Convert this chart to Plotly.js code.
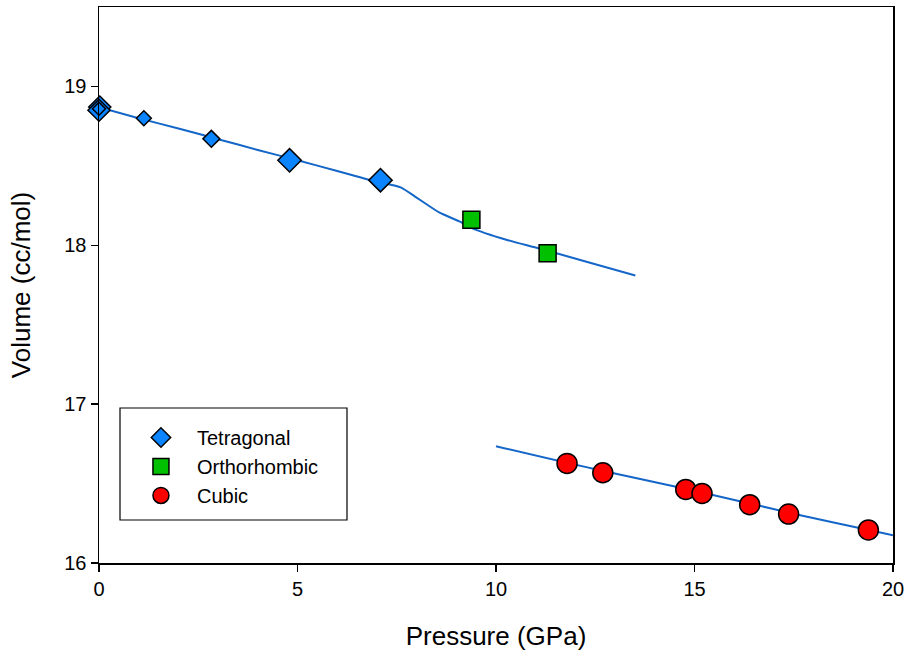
<!DOCTYPE html>
<html>
<head>
<meta charset="utf-8">
<script src="https://cdn.plot.ly/plotly-3.0.1.min.js"></script>
<style>html,body{margin:0;padding:0;background:#fff;}#chart{width:909px;height:660px;}</style>
</head>
<body>
<div id="chart"></div>
<script>
// Data
const tetraP = [0.02, 0, 0, 1.13, 2.83, 4.8, 7.09];
const tetraV = [18.87, 18.85, 18.86, 18.80, 18.67, 18.535, 18.41];
const tetraSize = [17, 17, 10, 11.5, 13, 18, 18];

const orthoP = [9.38, 11.3];
const orthoV = [18.16, 17.95];

const cubicP = [11.79, 12.69, 14.78, 15.19, 16.39, 17.37, 19.38];
const cubicV = [16.627, 16.568, 16.463, 16.438, 16.367, 16.308, 16.208];

const fitLowP = [0, 1, 2, 3, 4, 5, 6, 7, 7.6, 8.0, 8.24, 8.58, 9.08, 9.42, 10.26, 11.09, 12.3, 13.51];
const fitLowV = [18.869, 18.80, 18.735, 18.668, 18.60, 18.535, 18.468, 18.40, 18.365, 18.30, 18.26, 18.205, 18.150, 18.105, 18.035, 17.98, 17.895, 17.81];

const fitHighP = [10, 12.5, 15, 17.5, 20];
const fitHighV = [16.735, 16.59, 16.455, 16.31, 16.175];

const lineColor = '#1466c8';

const traces = [
  {x: fitLowP, y: fitLowV, mode: 'lines', line: {color: lineColor, width: 2, shape: 'spline', smoothing: 0.6}, showlegend: false, hoverinfo: 'skip'},
  {x: fitHighP, y: fitHighV, mode: 'lines', line: {color: lineColor, width: 2, shape: 'spline'}, showlegend: false, hoverinfo: 'skip'},
  {x: tetraP, y: tetraV, mode: 'markers', name: 'Tetragonal', cliponaxis: false,
   marker: {symbol: 'diamond', color: '#0a84ff', opacity: 1, size: tetraSize, line: {color: '#000', width: 1.5}}},
  {x: orthoP, y: orthoV, mode: 'markers', name: 'Orthorhombic', cliponaxis: false,
   marker: {symbol: 'square', color: '#00c000', opacity: 1, size: 17, line: {color: '#000', width: 1.5}}},
  {x: cubicP, y: cubicV, mode: 'markers', name: 'Cubic', cliponaxis: false,
   marker: {symbol: 'circle', color: '#ff0000', opacity: 1, size: 20, line: {color: '#000', width: 1.5}}}
];

const layout = {
  width: 909, height: 660,
  margin: {l: 99, r: 16, t: 7, b: 97},
  paper_bgcolor: '#fff', plot_bgcolor: '#fff',
  font: {family: 'Liberation Sans, Arial, sans-serif', color: '#000', size: 20},
  xaxis: {
    range: [0, 20], tickvals: [0, 5, 10, 15, 20], ticktext: ['0', '5', '10', '15', '20'],
    showgrid: false, zeroline: false, showline: true, linecolor: '#000', linewidth: 1.5, mirror: true,
    ticks: 'outside', ticklen: 7, tickwidth: 1.5, tickcolor: '#000',
    tickfont: {size: 20},
    title: {text: 'Pressure (GPa)', font: {size: 26}, standoff: 28}
  },
  yaxis: {
    range: [16, 19.5], tickvals: [16, 17, 18, 19], ticktext: ['16', '17', '18', '19'],
    showgrid: false, zeroline: false, showline: true, linecolor: '#000', linewidth: 1.5, mirror: true,
    ticks: 'outside', ticklen: 7, tickwidth: 1.5, tickcolor: '#000',
    tickfont: {size: 20},
    title: {text: 'Volume (cc/mol)', font: {size: 26}, standoff: 26}
  },
  legend: {
    x: 0.0327, y: 0.2608, xanchor: 'left', yanchor: 'top',
    bgcolor: 'rgba(0,0,0,0)', borderwidth: 0,
    font: {size: 20}, tracegroupgap: 0, itemwidth: 62
  },
  shapes: [
    {type: 'rect', xref: 'paper', yref: 'paper',
     x0: (120 - 99) / 794, x1: (347 - 99) / 794, y0: (563 - 520) / 556, y1: (563 - 408) / 556,
     line: {color: '#000', width: 1.2}, fillcolor: 'rgba(0,0,0,0)'}
  ],
  showlegend: true
};

Plotly.newPlot('chart', traces, layout, {displayModeBar: false, staticPlot: true});
</script>
</body>
</html>
